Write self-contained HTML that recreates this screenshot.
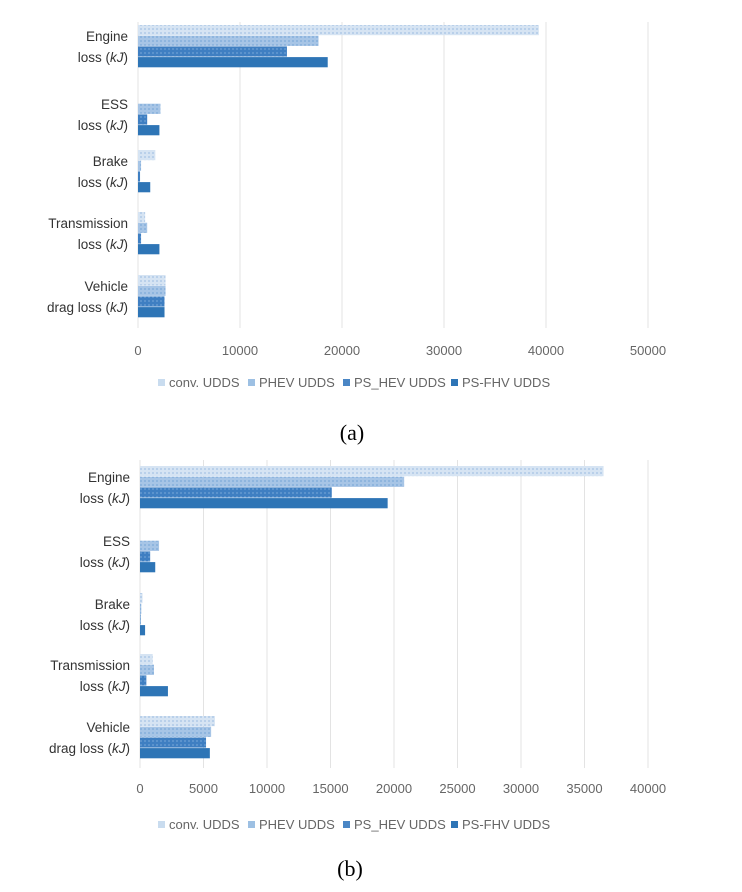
<!DOCTYPE html>
<html><head><meta charset="utf-8"><style>
html,body{margin:0;padding:0;background:#fff;width:742px;height:892px;overflow:hidden}
svg{display:block}
text{font-family:"Liberation Sans",sans-serif}
</style></head><body>
<svg id="s" width="742" height="892" xmlns="http://www.w3.org/2000/svg">
<defs>
<pattern id="p0" width="4" height="4" patternUnits="userSpaceOnUse"><rect width="4" height="4" fill="#d6e4f3"/><rect width="2" height="2" fill="#b9d0ea"/></pattern>
<pattern id="p1" width="4" height="4" patternUnits="userSpaceOnUse"><rect width="4" height="4" fill="#a7c5e6"/><rect width="2" height="2" fill="#8eb5de"/></pattern>
<pattern id="p2" width="4" height="4" patternUnits="userSpaceOnUse"><rect width="4" height="4" fill="#3f7fc2"/><rect width="2" height="2" fill="#5b93cd"/></pattern>
</defs>
<g id="g"></g>
<text x="352" y="440" font-size="22" text-anchor="middle" style="font-family:'Liberation Serif',serif">(a)</text>
<text x="350" y="876" font-size="22" text-anchor="middle" style="font-family:'Liberation Serif',serif">(b)</text>
</svg>
<script>
var g=document.getElementById('g'),h='';
var fills=['url(#p0)','url(#p1)','url(#p2)','#2e75b6'];
var labs=[['Engine','loss (kJ)'],['ESS','loss (kJ)'],['Brake','loss (kJ)'],['Transmission','loss (kJ)'],['Vehicle','drag loss (kJ)']];
function chart(x0,pxPer,nGrid,step,top,bot,tops,data,tickY,legY){
 for(var i=0;i<=nGrid;i++){var x=x0+i*step*pxPer;h+='<line x1="'+x+'" y1="'+top+'" x2="'+x+'" y2="'+bot+'" stroke="#e3e3e3" stroke-width="1"/>';
  h+='<text x="'+x+'" y="'+tickY+'" font-size="13" fill="#666" text-anchor="middle">'+(i*step)+'</text>';}
 for(var c=0;c<5;c++){var t=tops[c];
  for(var b=0;b<4;b++){var w=data[c][b]*pxPer;if(w>0)h+='<rect x="'+x0+'" y="'+(t+b*10.7)+'" width="'+w+'" height="10.2" fill="'+fills[b]+'"/>';}
  var cy=t+21;
  h+='<text x="'+(x0-10)+'" y="'+(cy-5)+'" font-size="13.5" fill="#333" text-anchor="end">'+labs[c][0]+'</text>';
  h+='<text x="'+(x0-10)+'" y="'+(cy+16)+'" font-size="13.5" fill="#333" text-anchor="end">'+labs[c][1].replace('kJ','<tspan font-style="italic">kJ</tspan>')+'</text>';}
 var lx=[158,248,343,451],ln=['conv. UDDS','PHEV UDDS','PS_HEV UDDS','PS-FHV UDDS'],lc=['#c9dcef','#9dc0e3','#4a86c5','#2e75b6'];
 for(var i=0;i<4;i++){h+='<rect x="'+lx[i]+'" y="'+(legY-8)+'" width="7" height="7" fill="'+lc[i]+'"/><text x="'+(lx[i]+11)+'" y="'+legY+'" font-size="13" fill="#666">'+ln[i]+'</text>';}
}
chart(138,0.0102,5,10000,22,328,[25,93,150,212,275],
 [[39300,17700,14600,18600],[0,2200,900,2100],[1700,300,200,1200],[700,900,300,2100],[2700,2700,2600,2600]],355,387);
chart(140,0.0127,8,5000,460,768,[466,530,593,654,716],
 [[36500,20800,15100,19500],[0,1500,800,1200],[200,100,50,400],[1000,1100,500,2200],[5900,5600,5200,5500]],793,829);
g.innerHTML=h;
</script>
</body></html>
